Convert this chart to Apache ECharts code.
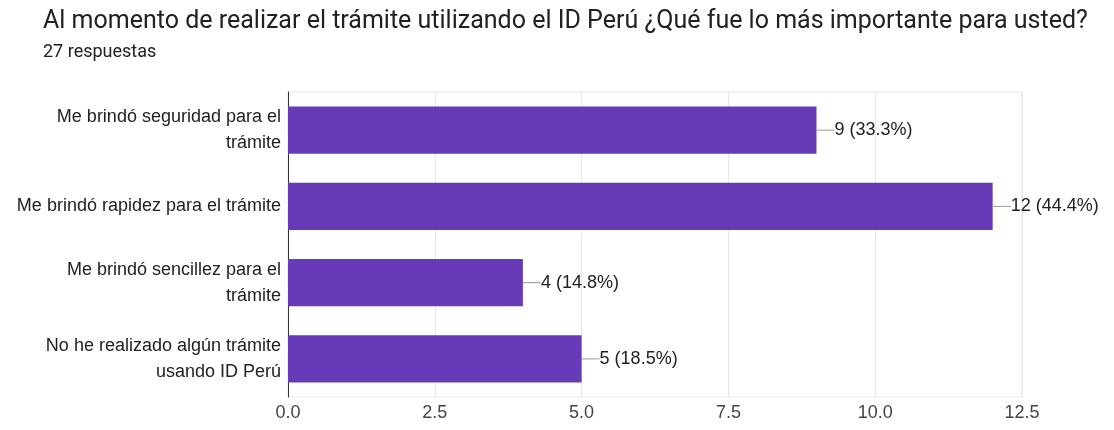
<!DOCTYPE html>
<html>
<head>
<meta charset="utf-8">
<script src="https://cdn.jsdelivr.net/npm/echarts@6/dist/echarts.min.js"></script>
<style>
  html, body { margin: 0; padding: 0; background: #fff; }
  #chart { width: 1114px; height: 430px; }
</style>
</head>
<body>
<div id="chart"></div>
<script>
var titleText = 'Al momento de realizar el trámite utilizando el ID Perú ¿Qué fue lo más importante para usted?'
var subText = '27 respuestas'
var totalResp = 27
var categories = [
  'Me brindó seguridad para el\ntrámite',
  'Me brindó rapidez para el trámite',
  'Me brindó sencillez para el\ntrámite',
  'No he realizado algún trámite\nusando ID Perú'
]
var values = [9, 12, 4, 5]

var chart = echarts.init(document.getElementById('chart'))
var option = {
  backgroundColor: '#fff',
  animation: false,
  title: {
    text: titleText,
    subtext: subText,
    left: 38,
    top: 4,
    itemGap: 9,
    textStyle: { fontFamily: 'Roboto', fontWeight: 'normal', fontSize: 25, color: '#202124' },
    subtextStyle: { fontFamily: 'Roboto', fontSize: 18, color: '#202124' }
  },
  grid: {
    left: 288,
    right: 92,
    top: 92,
    bottom: 33,
    show: true,
    borderColor: '#e6e6e6',
    borderWidth: 1
  },
  xAxis: {
    type: 'value',
    min: 0,
    max: 12.5,
    interval: 2.5,
    axisLine: { show: false },
    axisTick: { show: false },
    splitLine: { lineStyle: { color: '#e6e6e6' } },
    axisLabel: {
      margin: 7,
      fontFamily: 'Liberation Sans',
      fontSize: 18,
      color: '#444',
      formatter: function (v) { return v.toFixed(1) }
    }
  },
  yAxis: {
    type: 'category',
    inverse: true,
    data: categories,
    axisTick: { show: false },
    axisLine: { show: true, lineStyle: { color: '#333', width: 1 } },
    axisLabel: {
      margin: 7,
      fontFamily: 'Liberation Sans',
      fontSize: 18,
      lineHeight: 26,
      color: '#222',
      align: 'right'
    }
  },
  series: [
    {
      type: 'bar',
      data: values,
      barCategoryGap: '38%',
      itemStyle: { color: '#673ab7' },
      label: {
        show: true,
        position: 'right',
        distance: 0,
        fontFamily: 'Liberation Sans',
        fontSize: 18,
        color: '#222',
        formatter: function (p) {
          return p.value + ' (' + (p.value / totalResp * 100).toFixed(1) + '%)'
        }
      },
      labelLayout: { dx: 18 },
      labelLine: { show: true, lineStyle: { color: '#999', width: 1 } }
    }
  ]
}
chart.setOption(option)
</script>
</body>
</html>
